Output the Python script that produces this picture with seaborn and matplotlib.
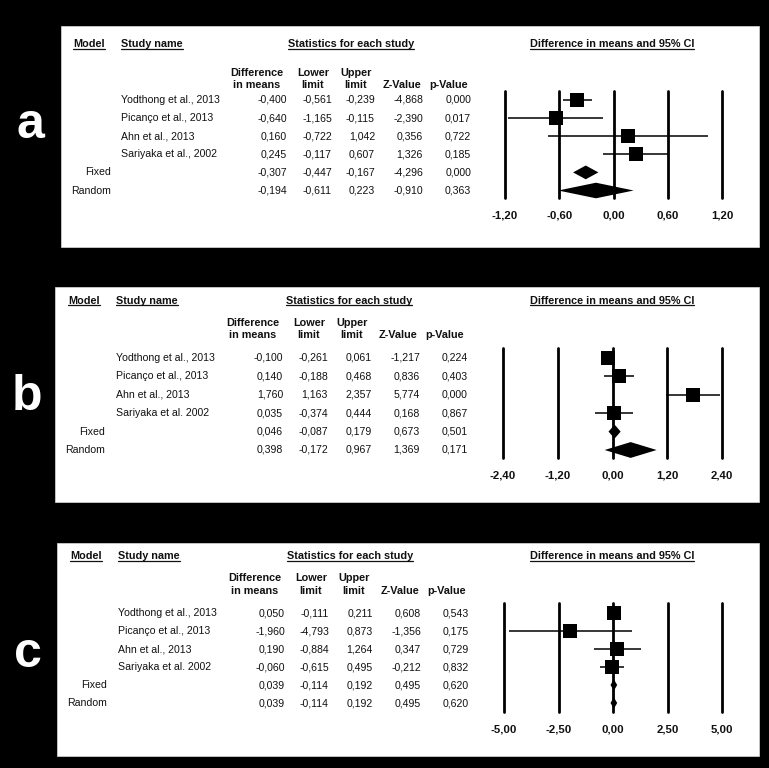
import matplotlib
matplotlib.use("Agg")
import matplotlib.pyplot as plt
import seaborn as sns
import pandas as pd
from matplotlib.lines import Line2D
from matplotlib.patches import Rectangle

# ---------------- data ----------------
studies_a = ["Yodthong et al., 2013", "Picanço et al., 2013", "Ahn et al., 2013", "Sariyaka et al., 2002"]
studies_bc = ["Yodthong et al., 2013", "Picanço et al., 2013", "Ahn et al., 2013", "Sariyaka et al. 2002"]
models = ["Fixed", "Random"]

a_diff = [-0.400, -0.640, 0.160, 0.245, -0.307, -0.194]
a_lower = [-0.561, -1.165, -0.722, -0.117, -0.447, -0.611]
a_upper = [-0.239, -0.115, 1.042, 0.607, -0.167, 0.223]
a_z = [-4.868, -2.390, 0.356, 1.326, -4.296, -0.910]
a_p = [0.000, 0.017, 0.722, 0.185, 0.000, 0.363]
a_ticks = [-1.2, -0.6, 0.0, 0.6, 1.2]

b_diff = [-0.100, 0.140, 1.760, 0.035, 0.046, 0.398]
b_lower = [-0.261, -0.188, 1.163, -0.374, -0.087, -0.172]
b_upper = [0.061, 0.468, 2.357, 0.444, 0.179, 0.967]
b_z = [-1.217, 0.836, 5.774, 0.168, 0.673, 1.369]
b_p = [0.224, 0.403, 0.000, 0.867, 0.501, 0.171]
b_ticks = [-2.4, -1.2, 0.0, 1.2, 2.4]

c_diff = [0.050, -1.960, 0.190, -0.060, 0.039, 0.039]
c_lower = [-0.111, -4.793, -0.884, -0.615, -0.114, -0.114]
c_upper = [0.211, 0.873, 1.264, 0.495, 0.192, 0.192]
c_z = [0.608, -1.356, 0.347, -0.212, 0.495, 0.495]
c_p = [0.543, 0.175, 0.729, 0.832, 0.620, 0.620]
c_ticks = [-5.0, -2.5, 0.0, 2.5, 5.0]

panel_letters = ["a", "b", "c"]

# ---------------- layout (pixels) ----------------
W, H = 769, 768
layouts = [
    dict(box=(61, 26, 759, 247), letter=(30, 125), hdr=44, d1=73, d2=85, row0=100, step=18.1,
         model_x=73, model_r=111, study_x=121, num_r=[287, 332, 375, 423, 471],
         hc=[257, 313, 356, 402, 449], stats_c=351, fx=(505, 722), fy=(91, 198), tick_y=216),
    dict(box=(55, 287, 759, 502), letter=(27, 397), hdr=301, d1=323, d2=335, row0=358, step=18.4,
         model_x=68, model_r=105, study_x=116, num_r=[283, 328, 372, 420, 468],
         hc=[253, 309, 352, 398, 445], stats_c=349, fx=(503, 722), fy=(348, 458), tick_y=476),
    dict(box=(57, 543, 759, 756), letter=(28, 654), hdr=556, d1=578, d2=591, row0=613, step=18.0,
         model_x=70, model_r=107, study_x=118, num_r=[285, 329, 373, 421, 469],
         hc=[255, 311, 354, 400, 447], stats_c=350, fx=(504, 722), fy=(603, 712), tick_y=730),
]

sns.set_theme(style="white")
plt.rcParams["font.family"] = ["Liberation Sans", "DejaVu Sans"]

fig = plt.figure(figsize=(W / 100, H / 100), dpi=100, facecolor="black")

FS = 7.6
FSB = 7.8
TXT = "#111111"


def fx_(x):
    return x / W


def fy_(y):
    return 1 - y / H


def fmt3(v):
    return f"{v:.3f}".replace(".", ",")


def fmt2(v):
    return f"{v:.2f}".replace(".", ",")


underlined = []

panels = [
    (studies_a, a_diff, a_lower, a_upper, a_z, a_p, a_ticks),
    (studies_bc, b_diff, b_lower, b_upper, b_z, b_p, b_ticks),
    (studies_bc, c_diff, c_lower, c_upper, c_z, c_p, c_ticks),
]

for k, (studies, diff, lower, upper, zv, pv, ticks) in enumerate(panels):
    L = layouts[k]
    x0, y0, x1, y1 = L["box"]
    fig.add_artist(Rectangle((fx_(x0), fy_(y1)), (x1 - x0) / W, (y1 - y0) / H,
                             transform=fig.transFigure, facecolor="white",
                             edgecolor="#dddddd", lw=0.5, zorder=-10))
    lx, ly = L["letter"]
    fig.text(fx_(lx), fy_(ly), panel_letters[k], color="white", fontsize=36,
             fontweight="bold", ha="center", va="center")

    # headers
    t = fig.text(fx_(L["model_x"]), fy_(L["hdr"]), "Model", fontsize=FSB, fontweight="bold",
                 ha="left", va="center", color=TXT)
    underlined.append(t)
    t = fig.text(fx_(L["study_x"]), fy_(L["hdr"]), "Study name", fontsize=FSB, fontweight="bold",
                 ha="left", va="center", color=TXT)
    underlined.append(t)
    t = fig.text(fx_(L["stats_c"]), fy_(L["hdr"]), "Statistics for each study", fontsize=FSB,
                 fontweight="bold", ha="center", va="center", color=TXT)
    underlined.append(t)
    t = fig.text(fx_(612), fy_(L["hdr"]), "Difference in means and 95% CI", fontsize=FSB,
                 fontweight="bold", ha="center", va="center", color=TXT)
    underlined.append(t)

    hc = L["hc"]
    col_heads = [("Difference", "in means"), ("Lower", "limit"), ("Upper", "limit"),
                 ("", "Z-Value"), ("", "p-Value")]
    for c, (h1, h2) in enumerate(col_heads):
        if h1:
            fig.text(fx_(hc[c]), fy_(L["d1"]), h1, fontsize=FSB, fontweight="bold",
                     ha="center", va="center", color=TXT)
        fig.text(fx_(hc[c]), fy_(L["d2"]), h2, fontsize=FSB, fontweight="bold",
                 ha="center", va="center", color=TXT)

    # rows
    names = list(studies) + models
    for r in range(6):
        yy = L["row0"] + r * L["step"]
        if r < 4:
            fig.text(fx_(L["study_x"]), fy_(yy), names[r], fontsize=FS, ha="left",
                     va="center", color=TXT)
        else:
            fig.text(fx_(L["model_r"]), fy_(yy), names[r], fontsize=FS, ha="right",
                     va="center", color=TXT)
        vals = [diff[r], lower[r], upper[r], zv[r], pv[r]]
        for c, v in enumerate(vals):
            fig.text(fx_(L["num_r"][c]), fy_(yy), fmt3(v), fontsize=FS, ha="right",
                     va="center", color=TXT)

    # forest plot axes
    xl, xr = L["fx"]
    yt, yb = L["fy"]
    ax = fig.add_axes([fx_(xl), fy_(yb), (xr - xl) / W, (yb - yt) / H])
    ax.patch.set_alpha(0)
    step = L["step"]
    row_top = -(L["row0"] - yt) / step
    row_bot = 5 + (yb - (L["row0"] + 5 * step)) / step
    ax.set_xlim(ticks[0], ticks[-1])
    ax.set_ylim(row_bot, row_top)

    df = pd.DataFrame({"name": names, "diff": diff, "lower": lower, "upper": upper,
                       "row": list(range(6))})
    for tv in ticks:
        ax.axvline(tv, color="black", lw=2.0, zorder=1, clip_on=False)
    st = df.iloc[:4]
    ax.hlines(st["row"], st["lower"], st["upper"], color="black", lw=1.1, zorder=2,
              clip_on=False)
    sns.scatterplot(data=st, x="diff", y="row", marker="s", s=100, color="black",
                    linewidth=0, legend=False, ax=ax, zorder=3, clip_on=False)
    for r in (4, 5):
        h = (0.38 if r == 4 else 0.43) if k < 2 else 0.32
        m, lo, up = df.loc[r, "diff"], df.loc[r, "lower"], df.loc[r, "upper"]
        ax.fill([lo, m, up, m], [r, r - h, r, r + h], color="black", zorder=3,
                clip_on=False, lw=0)

    ax.set_xticks(ticks)
    ax.set_xticklabels([fmt2(tv) for tv in ticks], fontsize=8.2, fontweight="bold",
                       color=TXT)
    ax.set_yticks([])
    ax.set_xlabel("")
    ax.set_ylabel("")
    ax.tick_params(axis="x", length=0, pad=(L["tick_y"] - yb - 5) * 0.72)
    for s in ax.spines.values():
        s.set_visible(False)

# underlines
fig.canvas.draw()
rend = fig.canvas.get_renderer()
for t in underlined:
    bb = t.get_window_extent(renderer=rend)
    yline = bb.y0 + 0.5
    fig.add_artist(Line2D([bb.x0 / W, bb.x1 / W], [yline / H, yline / H],
                          transform=fig.transFigure, color=TXT, lw=0.9))

fig.savefig("out.png", dpi=100, facecolor=fig.get_facecolor())
